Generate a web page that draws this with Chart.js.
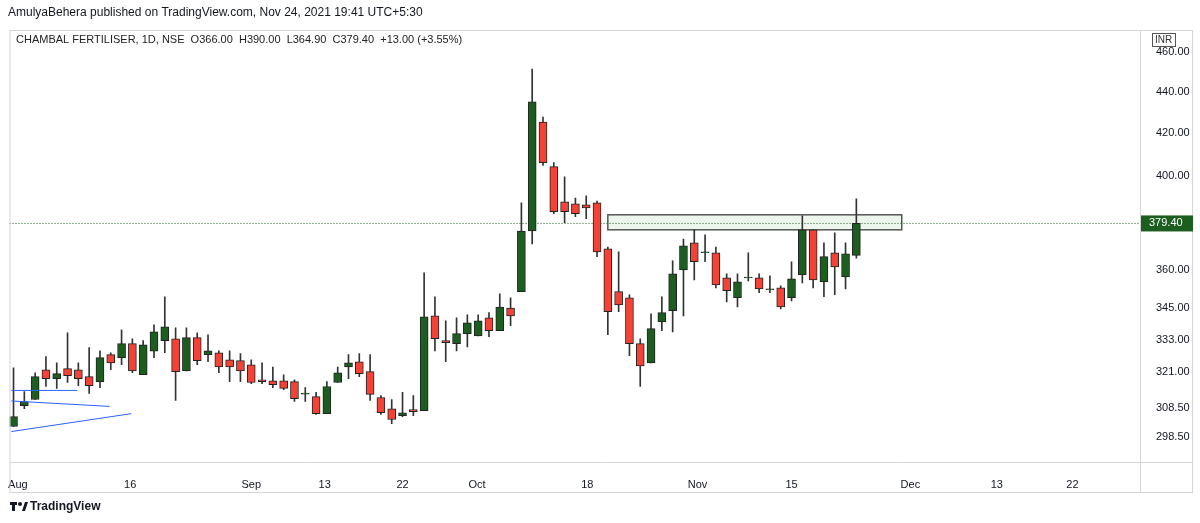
<!DOCTYPE html>
<html><head><meta charset="utf-8">
<script src="https://cdn.jsdelivr.net/npm/chart.js@4.4.1/dist/chart.umd.min.js"></script>
<style>html,body{margin:0;padding:0;background:#fff}canvas{display:block}</style>
</head><body>
<canvas id="c" width="1200" height="523"></canvas>
<script>
const opens=[302.0,309.2,311.3,321.9,318.7,322.3,321.9,319.4,317.6,327.4,326.3,331.5,320.1,328.7,332.6,333.3,321.5,333.7,327.4,328.1,325.5,325.2,323.7,318.3,317.9,317.9,317.6,313.2,312.3,306.4,317.3,322.9,324.8,321.2,312.0,308.1,305.7,307.8,307.4,342.0,332.6,331.5,335.2,334.4,341.2,336.3,345.0,351.4,376.2,425.2,404.4,388.7,387.8,387.4,388.3,368.7,351.4,349.0,331.5,324.4,339.7,344.0,360.1,371.2,367.1,367.1,356.9,349.0,356.9,356.9,352.2,352.9,349.0,358.1,376.7,355.3,367.1,357.3,366.0];
const highs=[322.6,314.1,320.8,326.7,324.4,335.5,324.4,330.0,328.8,328.1,336.7,333.3,332.6,338.6,349.4,337.4,337.4,335.5,334.8,328.8,328.8,327.8,325.5,324.4,322.9,320.1,318.3,315.5,313.8,317.6,322.9,327.4,327.8,327.4,312.7,311.3,313.8,312.7,358.9,349.4,340.1,341.2,342.4,342.4,343.2,350.6,349.0,388.3,451.3,427.6,406.2,399.8,390.4,391.3,389.1,369.5,367.5,350.2,333.3,342.8,349.4,363.8,372.8,376.7,374.6,369.5,358.5,358.5,367.1,358.5,357.7,353.7,363.4,382.7,376.7,371.2,375.4,371.2,390.0];
const lows=[302.0,308.1,311.3,315.9,315.2,317.3,316.2,313.4,315.5,321.9,323.7,320.8,320.1,326.3,328.1,311.0,321.5,323.7,324.8,320.8,317.6,317.6,316.9,316.9,315.5,314.8,310.6,310.6,306.1,306.4,317.3,318.7,319.4,311.0,306.1,303.0,305.4,305.7,307.4,328.8,324.8,328.8,330.3,334.4,334.1,336.3,338.2,351.4,370.8,405.0,383.6,379.7,382.3,381.4,365.5,334.8,343.6,327.0,315.9,324.4,336.3,335.9,342.0,356.1,363.4,352.9,347.4,345.4,355.7,351.0,351.0,344.7,347.8,354.9,352.9,349.4,350.2,352.5,364.9];
const closes=[305.4,310.6,319.4,318.7,320.5,319.8,318.7,316.2,326.3,324.4,331.5,321.5,331.0,335.9,337.8,321.2,333.7,325.2,328.8,322.9,322.9,321.5,317.3,317.6,316.5,315.2,311.6,313.2,306.4,315.9,320.8,324.4,320.5,313.1,306.7,304.4,306.7,307.1,341.6,333.3,331.8,335.2,339.3,340.1,336.3,345.4,342.0,376.2,434.9,406.2,384.4,384.4,383.6,386.1,367.5,343.6,346.2,331.5,323.3,337.1,343.2,358.5,370.0,363.4,367.1,354.1,351.8,355.3,356.9,352.5,352.2,345.4,356.5,376.7,356.1,365.5,361.3,366.7,379.4];
const timeTickLabels=['Aug','16','Sep','13','22','Oct','18','Nov','15','Dec','13','22'];
const timeTickBars=[0.4,10.8,22,28.8,36,42.9,53.1,63.3,72,83,91,98];
const priceTicks=[298.5,308.5,321,333,345,360,400,420,440,460];
const lastPrice=379.40;
const zoneLow=376.7, zoneHigh=383.1, zoneFrom=55.0, zoneTo=82.2;
const trend1=[{x:-0.2,y:314.5},{x:5.9,y:314.5}];
const trend2=[{x:-0.2,y:310.8},{x:8.9,y:308.9}];
const trend3=[{x:-0.2,y:300.3},{x:10.9,y:306.4}];

const UP='#1b5e20', DN='#f44336';
const idx=opens.map((_,i)=>i);
const isUp=i=>closes[i]>=opens[i];
const bodies=idx.map(i=>{let a=opens[i],b=closes[i];if(Math.abs(a-b)<0.3){b=a+0.35;}return {x:i,y:[a,b]};});
const wicks=idx.map(i=>({x:i,y:[lows[i],highs[i]]}));
const FONT='"Liberation Sans", Arial, sans-serif';

const deco={id:'deco',
 beforeDatasetsDraw(ch){const {ctx,scales:{x,y}}=ch;ctx.save();
  const x1=x.getPixelForValue(zoneFrom),x2=x.getPixelForValue(zoneTo),y1=y.getPixelForValue(zoneHigh),y2=y.getPixelForValue(zoneLow);
  ctx.fillStyle='rgba(200,230,201,0.35)';ctx.fillRect(x1,y1,x2-x1,y2-y1);
  ctx.strokeStyle='#555';ctx.lineWidth=1.5;ctx.strokeRect(x1,y1,x2-x1,y2-y1);
  const ly=y.getPixelForValue(lastPrice);ctx.strokeStyle='#1b5e20';ctx.lineWidth=1;ctx.setLineDash([1,2]);
  ctx.beginPath();ctx.moveTo(ch.chartArea.left,ly);ctx.lineTo(ch.chartArea.right,ly);ctx.stroke();ctx.restore();},
 afterDraw(ch){const {ctx,chartArea:a,scales:{y}}=ch;ctx.save();
  ctx.strokeStyle='#d6d6d6';ctx.lineWidth=1;
  ctx.strokeRect(a.left+0.5,a.top+0.5,1192-a.left,492-a.top);
  ctx.beginPath();ctx.moveTo(a.right+0.5,a.top);ctx.lineTo(a.right+0.5,492);ctx.moveTo(a.left,a.bottom+0.5);ctx.lineTo(1192,a.bottom+0.5);ctx.stroke();
  const ly=y.getPixelForValue(lastPrice);
  ctx.fillStyle='#1b5e20';ctx.fillRect(a.right+1,ly-8,52,16);
  ctx.fillStyle='#fff';ctx.font='11px '+FONT;ctx.textBaseline='middle';ctx.textAlign='left';ctx.fillText(lastPrice.toFixed(2),a.right+9,ly);
  ctx.fillStyle='#fff';ctx.fillRect(1152,33,24,14);
  ctx.strokeStyle='#555';ctx.strokeRect(1152.5,33.5,23,13);ctx.fillStyle='#333';ctx.font='10px '+FONT;ctx.fillText('INR',1155,40.5);
  ctx.fillStyle='#131722';ctx.font='12px '+FONT;ctx.fillText('AmulyaBehera published on TradingView.com, Nov 24, 2021 19:41 UTC+5:30',8,13);
  ctx.font='11px '+FONT;ctx.fillStyle='#222';ctx.fillText('CHAMBAL FERTILISER, 1D, NSE  O366.00  H390.00  L364.90  C379.40  +13.00 (+3.55%)',16,40);
  ctx.fillStyle='#131722';ctx.font='bold 12px '+FONT;ctx.fillText('TradingView',30,507);
  ctx.fillStyle='#131722';ctx.fillRect(10,502,7,3);ctx.fillRect(12,502,3,9);ctx.beginPath();ctx.arc(20,504,2,0,7);ctx.fill();
  ctx.beginPath();ctx.moveTo(22,511);ctx.lineTo(25,502);ctx.lineTo(28,502);ctx.lineTo(25,511);ctx.fill();
  ctx.restore();}
};

new Chart(document.getElementById('c'),{
 data:{datasets:[
  {type:'line',data:trend1,borderColor:'#2962ff',borderWidth:1,pointRadius:0},
  {type:'line',data:trend2,borderColor:'#2962ff',borderWidth:1,pointRadius:0},
  {type:'line',data:trend3,borderColor:'#2962ff',borderWidth:1,pointRadius:0},
  {type:'bar',data:wicks,backgroundColor:'#333',barThickness:1,grouped:false,order:2},
  {type:'bar',data:bodies,backgroundColor:idx.map(i=>isUp(i)?UP:DN),borderColor:'#222',borderWidth:1,borderSkipped:false,barThickness:8,grouped:false,order:1}
 ]},
 options:{responsive:false,animation:false,events:[],
  layout:{padding:{left:8,top:30,right:8,bottom:31}},
  plugins:{legend:{display:false},tooltip:{enabled:false}},
  scales:{
   x:{type:'linear',offset:false,min:-0.37,max:104.25,grid:{display:false,offset:false},border:{display:false},
    afterBuildTicks:s=>{s.ticks=timeTickBars.map(v=>({value:v}));},
    afterFit:s=>{s.height=30;},
    ticks:{autoSkip:false,maxRotation:0,color:'#131722',font:{family:FONT,size:11},padding:8,
     callback:(v,i)=>timeTickLabels[i]}},
   y:{type:'logarithmic',position:'right',min:290.2,max:471.5,grid:{display:false},border:{display:false},
    afterBuildTicks:s=>{s.ticks=priceTicks.map(v=>({value:v}));},
    afterFit:s=>{s.width=52;},
    ticks:{color:'#131722',font:{family:FONT,size:11},padding:8,callback:v=>Number(v).toFixed(2)}}
  }},
 plugins:[deco]
});
</script></body></html>
